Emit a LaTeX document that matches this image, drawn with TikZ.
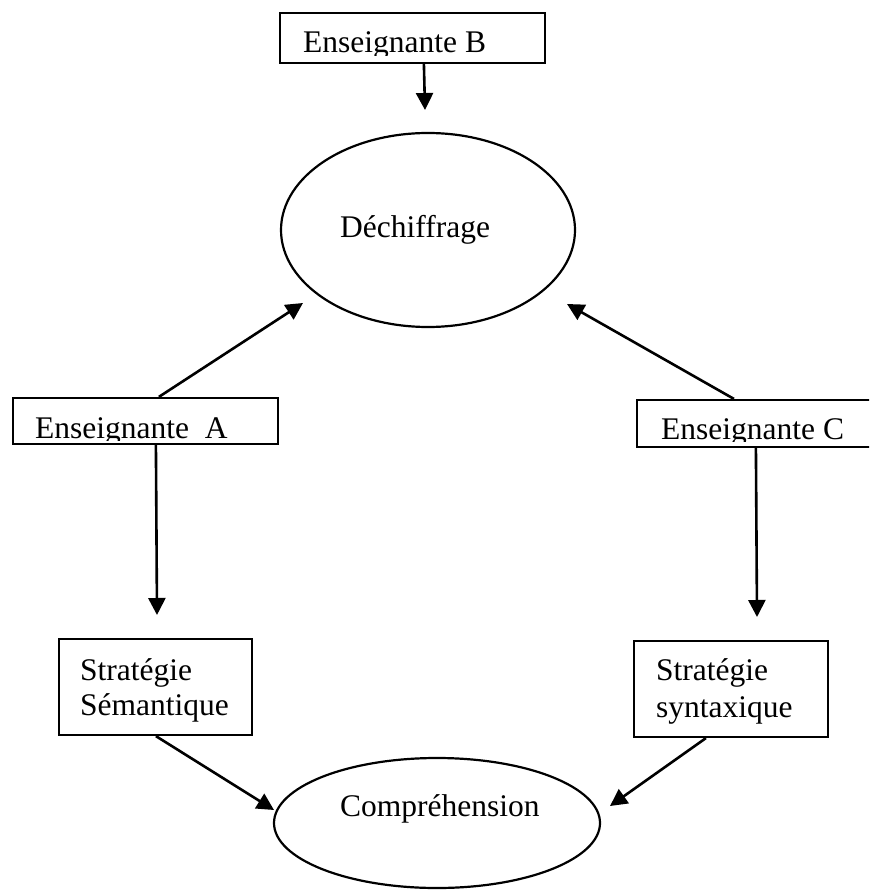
\documentclass[tikz,border=0pt]{standalone}
\usepackage{fontspec}
\setmainfont{Liberation Serif}
\usetikzlibrary{arrows.meta,shapes.geometric}
\begin{document}
\begin{tikzpicture}[x=1pt,y=-1pt,
  boxstyle/.style={draw, rectangle, inner sep=0pt, line width=2.2pt},
  ovalstyle/.style={draw, ellipse, inner sep=0pt, line width=2.2pt},
  lbl/.style={inner sep=0pt, anchor=base west, font=\fontsize{31.5}{36}\selectfont},
  arr/.style={-{Triangle[length=17pt,width=17pt]}, line width=2.6pt}]
\useasboundingbox (0,0) rectangle (869,890);
\clip (0,0) rectangle (869,890);
\fill[white] (0,0) rectangle (869,890);

% boxes
\node[boxstyle, minimum width=265pt, minimum height=50pt] (boxB) at (412.5,38) {};
\node[boxstyle, minimum width=265pt, minimum height=46pt] (boxA) at (145.5,421) {};
\node[boxstyle, minimum width=265pt, minimum height=47pt] (boxC) at (769.5,423.5) {};
\node[boxstyle, minimum width=193pt, minimum height=96pt] (boxSem) at (155.5,687) {};
\node[boxstyle, minimum width=194pt, minimum height=96pt] (boxSyn) at (731,689) {};

% ellipses
\node[ovalstyle, minimum width=294pt, minimum height=194pt] (dech) at (428,230) {};
\node[ovalstyle, minimum width=326pt, minimum height=130pt] (comp) at (437,823) {};

% texts (clipped as in the scan)
\begin{scope}
  \clip (282,15) rectangle (543,55.5);
  \node[lbl] (tB) at (303,53) {Enseignante B};
\end{scope}
\begin{scope}
  \clip (15,400) rectangle (276,440.5);
  \node[lbl] (tA) at (35,438) {Enseignante\ \ A};
\end{scope}
\begin{scope}
  \clip (639,402) rectangle (869,441.5);
  \node[lbl] (tC) at (661,439) {Enseignante C};
\end{scope}
\node[lbl] (tDech) at (340,238) {Déchiffrage};
\node[lbl] (tComp) at (340,816) {Compréhension};
\node[lbl] (tSem1) at (80,680) {Stratégie};
\node[lbl] (tSem2) at (80,715) {Sémantique};
\node[lbl] (tSyn1) at (656,680) {Stratégie};
\node[lbl] (tSyn2) at (656,717) {syntaxique};

% arrow tips
\coordinate (pB) at (425,110);
\coordinate (pAD) at (303,303);
\coordinate (pCD) at (567,304);
\coordinate (pAS) at (157,615);
\coordinate (pCS) at (757,617);
\coordinate (pSemC) at (274,810);
\coordinate (pSynC) at (610,806);

% connectors
\draw[arr] ([xshift=145pt]boxB.south west) -- (pB);
\draw[arr] ([xshift=147pt]boxA.north west) -- (pAD);
\draw[arr] ([xshift=98pt]boxC.north west) -- (pCD);
\draw[arr] ([xshift=144pt]boxA.south west) -- (pAS);
\draw[arr] ([xshift=120pt]boxC.south west) -- (pCS);
\draw[arr] ([xshift=98pt]boxSem.south west) -- (pSemC);
\draw[arr] ([xshift=73pt]boxSyn.south west) -- (pSynC);
\end{tikzpicture}
\end{document}
